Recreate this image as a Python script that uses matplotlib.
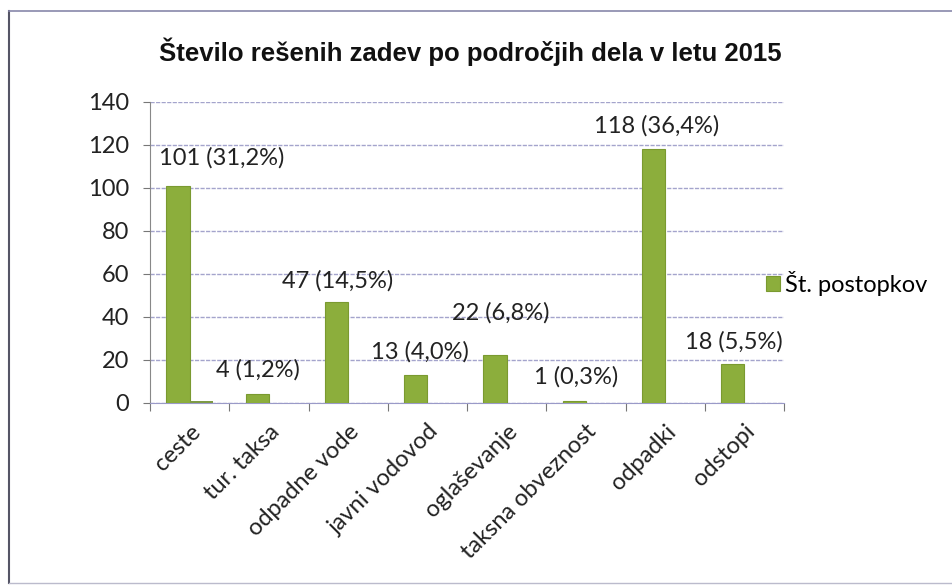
import matplotlib
matplotlib.use("Agg")
import matplotlib.pyplot as plt
from matplotlib.lines import Line2D
import numpy as np

categories = ["ceste", "tur. taksa", "odpadne vode", "javni vodovod",
              "oglaševanje", "taksna obveznost", "odpadki", "odstopi"]
values = [101, 4, 47, 13, 22, 1, 118, 18]
percents = ["31,2%", "1,2%", "14,5%", "4,0%", "6,8%", "0,3%", "36,4%", "5,5%"]
second_series = [0.6, 0, 0, 0, 0, 0, 0, 0]
series_name = "Št. postopkov"
title = "Število rešenih zadev po področjih dela v letu 2015"
yticks = [0, 20, 40, 60, 80, 100, 120, 140]

# label placement offsets (layout)
label_dx = [0.41, -0.14, -0.13, -0.10, -0.07, -0.12, -0.11, -0.13]
label_y = [113.9, 15.2, 56.9, 23.5, 41.6, 11.9, 128.7, 28.1]

W, H = 952, 586
fig = plt.figure(figsize=(W / 100, H / 100), dpi=100)
ax = fig.add_axes([150 / W, 1 - 402.7 / H, (784 - 150) / W, (402.7 - 101.7) / H])

font = ["Lato", "DejaVu Sans"]
x = np.arange(len(categories))
bw = 0.294
green = "#8cae3c"
ax.bar(x - bw / 2, values, width=bw, color=green, edgecolor="#7a9a30",
       linewidth=0.8, label=series_name, zorder=3)
ax.bar(x + bw / 2, second_series, width=bw, color="#7d9a45", linewidth=0, zorder=3)

for i, v in enumerate(values):
    ax.text(x[i] + label_dx[i], label_y[i], f"{v} ({percents[i]})",
            ha="center", va="center", fontsize=17, family=font, color="#222222",
            zorder=4)

ax.set_xlim(-0.5, len(categories) - 0.5)
ax.set_ylim(0, 140)
ax.set_yticks(yticks)
ax.set_yticklabels([str(t) for t in yticks], fontsize=17, family=font, color="#222222")
ax.yaxis.grid(True, color="#a4a4cc", linestyle=(0, (3, 1)), linewidth=1, zorder=0)
ax.set_axisbelow(True)

ax.set_xticks(np.arange(-0.5, len(categories) + 0.5, 1))
ax.set_xticklabels([])
ax.set_xticks(x, minor=True)
ax.set_xticklabels(categories, minor=True, rotation=45, ha="right",
                   rotation_mode="anchor", fontsize=17, family=font, color="#222222")
ax.tick_params(axis="x", which="minor", length=0, pad=13)
ax.tick_params(axis="x", which="major", length=6, color="#777777", direction="out")
ax.tick_params(axis="y", length=5, color="#777777", pad=10)

ax.spines["top"].set_visible(False)
ax.spines["right"].set_visible(False)
ax.spines["left"].set_color("#888888")
ax.spines["bottom"].set_color("#9a9ac8")

fig.text(470 / W, 1 - 52 / H, title, ha="center", va="center",
         fontsize=18.5, fontweight="bold", family=["Liberation Sans", "DejaVu Sans"],
         color="#111111")

fig.legend(loc="center left", bbox_to_anchor=(745 / W, 1 - 283 / H), frameon=False,
           handlelength=0.6, handleheight=0.6, handletextpad=0.2,
           prop={"family": font, "size": 17})

# outer frame
fig.add_artist(Line2D([9 / W, 9 / W], [1 - 11 / H, 1 - 583 / H], color="#555566", lw=1.5))
fig.add_artist(Line2D([9 / W, 1], [1 - 11 / H, 1 - 11 / H], color="#8888aa", lw=1.2))
fig.add_artist(Line2D([9 / W, 1], [1 - 583 / H, 1 - 583 / H], color="#bbbbcc", lw=1.0))

fig.savefig("out.png", dpi=100)
